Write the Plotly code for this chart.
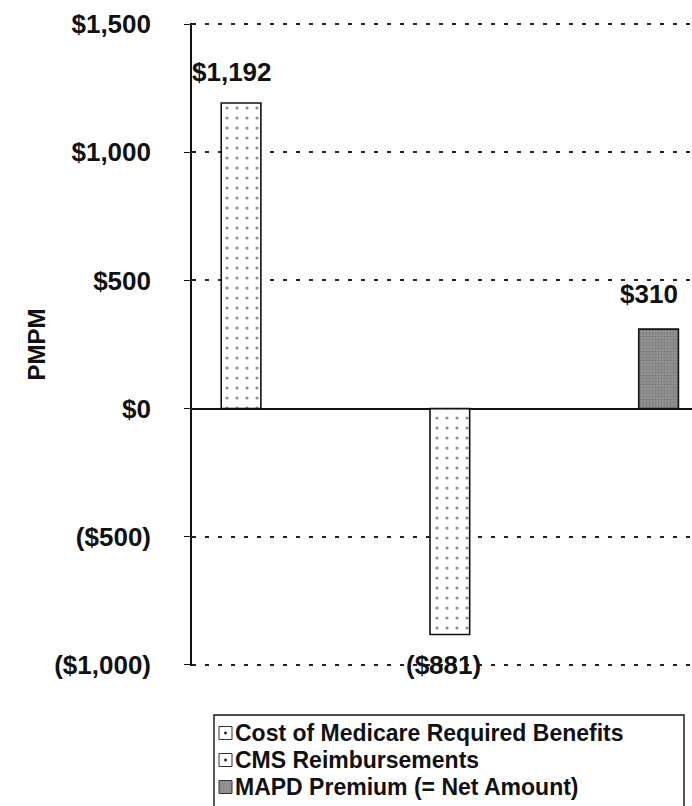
import plotly.graph_objects as go

# Per-member-per-month amounts for the bid components
categories = ["Cost of Medicare Required Benefits", "CMS Reimbursements", "MAPD Premium (= Net Amount)"]
values = [1192, -881, 310]
label_text = ["$1,192", "($881)", "$310"]

tick_values = [1500, 1000, 500, 0, -500, -1000]
tick_labels = ["$1,500", "$1,000", "$500", "$0", "($500)", "($1,000)"]

W, H = 692, 806
L, R, T, B = 192, 0, 23, 140
PW, PH = W - L - R, H - T - B

FONT = dict(family="Liberation Sans, Arial, sans-serif", size=26, color="#111", weight="bold")

dotted = dict(shape=".", fgcolor="#222", bgcolor="white", size=10, solidity=0.08)
grainy = dict(shape=".", fgcolor="#5e5e5e", bgcolor="#949494", size=3, solidity=0.4)
fills = [dotted, dotted, grainy]

fig = go.Figure()
for i, (name, v) in enumerate(zip(categories, values)):
    fig.add_trace(go.Bar(
        x=[i], y=[v], name=name, width=0.19,
        marker=dict(color="white" if i < 2 else "#949494",
                    pattern=fills[i],
                    line=dict(color="#111", width=1.6)),
        showlegend=False, hoverinfo="skip",
    ))

# value labels above / below each bar
shifts = [(-9, 31), (-6, -31), (-10, 35)]
for i, (v, t) in enumerate(zip(values, label_text)):
    dx, dy = shifts[i]
    fig.add_annotation(x=i, y=v, text=t, showarrow=False, xshift=dx, yshift=dy,
                       yanchor="middle", xanchor="center", font=FONT)

# axis title
fig.add_annotation(xref="paper", yref="paper", x=(36 - L) / PW, y=0.5, text="PMPM",
                   textangle=-90, showarrow=False, xanchor="center", yanchor="middle",
                   font=dict(FONT, size=24))

# legend box, drawn in pixel positions converted to paper coordinates
def px(xp):
    return (xp - L) / PW

def py(yp):
    return (H - B - yp) / PH

box_l, box_r, box_t, box_b = 214, 684, 715, 812
fig.add_shape(type="rect", xref="paper", yref="paper",
              x0=px(box_l), x1=px(box_r), y0=py(box_b), y1=py(box_t),
              line=dict(color="#111", width=1.4), fillcolor="white", layer="above")
row_y = [733, 760, 787]
sw_l, sw = 219, 13
swatch_fill = ["white", "white", "#909090"]
for i, name in enumerate(categories):
    cy = row_y[i]
    fig.add_shape(type="rect", xref="paper", yref="paper",
                  x0=px(sw_l), x1=px(sw_l + sw), y0=py(cy + sw / 2), y1=py(cy - sw / 2),
                  line=dict(color="#333", width=1), fillcolor=swatch_fill[i], layer="above")
    if i < 2:
        fig.add_shape(type="circle", xref="paper", yref="paper",
                      x0=px(sw_l + sw / 2 - 1.2), x1=px(sw_l + sw / 2 + 1.2),
                      y0=py(cy + 1.2), y1=py(cy - 1.2),
                      line=dict(color="#222", width=0.5), fillcolor="#222", layer="above")
    fig.add_annotation(xref="paper", yref="paper", x=px(sw_l + sw + 1), y=py(cy),
                       text=name, showarrow=False, xanchor="left", yanchor="middle",
                       font=dict(FONT, size=23))

fig.update_layout(
    width=W, height=H,
    margin=dict(l=L, r=R, t=T, b=B),
    paper_bgcolor="white", plot_bgcolor="white",
    barmode="overlay", showlegend=False,
    xaxis=dict(type="linear", range=[-0.235, 2.16], showgrid=False, zeroline=False,
               showticklabels=False, ticks="", showline=False),
    yaxis=dict(range=[-1004, 1504], tickvals=tick_values, ticktext=tick_labels,
               tickfont=FONT, showgrid=True, gridcolor="#222", gridwidth=1.5,
               griddash="4px,9px", zeroline=True, zerolinecolor="#111", zerolinewidth=1.6,
               showline=True, linecolor="#111", linewidth=1.6,
               ticks="outside", ticklen=6, tickcolor="#111", tickwidth=1.4,
               ticklabelstandoff=28),
)

fig.write_html("out.html")
